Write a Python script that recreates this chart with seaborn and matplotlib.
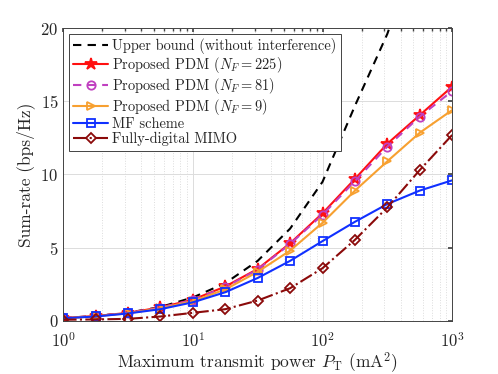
import numpy as np
import pandas as pd
import matplotlib
matplotlib.use("Agg")
import matplotlib.pyplot as plt
import seaborn as sns
from matplotlib.ticker import LogLocator, NullFormatter


# transmit power points (mA^2), 4 per decade
power = [1, 1.78, 3.16, 5.62, 10, 17.8, 31.6, 56.2, 100, 178, 316, 562, 1000]

upper_bound = [0.2, 0.33, 0.56, 0.95, 1.6, 2.58, 4.1, 6.3, 9.5, 14.7, 19.6, 26.0, 34.0]
pdm_225 = [0.2, 0.33, 0.55, 0.92, 1.45, 2.35, 3.55, 5.3, 7.35, 9.7, 12.1, 14.05, 16.0]
pdm_81 = [0.2, 0.33, 0.55, 0.91, 1.43, 2.3, 3.5, 5.25, 7.25, 9.55, 11.9, 13.95, 15.7]
pdm_9 = [0.18, 0.31, 0.52, 0.86, 1.35, 2.15, 3.35, 4.8, 6.7, 8.9, 10.9, 12.85, 14.4]
mf_scheme = [0.18, 0.3, 0.51, 0.8, 1.27, 1.96, 2.93, 4.1, 5.45, 6.77, 7.98, 8.9, 9.6]
fully_digital = [0.08, 0.1, 0.14, 0.3, 0.55, 0.8, 1.39, 2.23, 3.6, 5.54, 7.75, 10.3, 12.7]

sns.set_theme(style="white")
plt.rcParams['font.family'] = ['cmr10', 'DejaVu Serif']
plt.rcParams['mathtext.fontset'] = 'cm'
plt.rcParams['axes.formatter.use_mathtext'] = True
plt.rcParams['axes.unicode_minus'] = False

fig = plt.figure(figsize=(4.98, 3.74), dpi=100)
ax = fig.add_axes([0.127, 0.142, 0.781, 0.783])

series = [
    (upper_bound, 'Upper bound (without interference)', 'black', (0, (4, 3)), None, 'black'),
    (pdm_225, r'Proposed PDM ($N_F = 225$)', '#ff1010', '-', '*', '#ff1010'),
    (pdm_81, r'Proposed PDM ($N_F = 81$)', '#c040c0', (0, (4, 3)), 'o', 'none'),
    (pdm_9, r'Proposed PDM ($N_F = 9$)', '#f7a030', '-', '>', 'none'),
    (mf_scheme, 'MF scheme', '#1030ff', '-', 's', 'none'),
    (fully_digital, 'Fully-digital MIMO', '#8b0a0a', '-.', 'D', 'none'),
]

for vals, name, col, ls, mk, mfc in series:
    size = 9 if mk == '*' else 6
    if mk == 'D':
        size = 5
    sns.lineplot(x=power, y=vals, ax=ax, color=col, linestyle=ls, marker=mk,
                 markersize=size, markerfacecolor=mfc, markeredgecolor=col,
                 markeredgewidth=1.3, linewidth=1.5, label=name)

ax.set_xscale('log')
ax.set_xlim(1, 1000)
ax.set_ylim(0, 20)
ax.set_yticks([0, 5, 10, 15, 20])
ax.xaxis.set_minor_locator(LogLocator(base=10, subs=np.arange(2, 10)))
ax.xaxis.set_minor_formatter(NullFormatter())

ax.grid(True, which='major', color='#dcdcdc', linewidth=0.7)
ax.grid(True, which='minor', axis='x', color='#dcdcdc', linestyle=':', linewidth=0.7)
ax.tick_params(direction='in', top=True, right=True, which='both', labelsize=12,
               length=3, color='#444444')
ax.tick_params(which='minor', length=2)
ax.tick_params(axis='x', which='major', pad=7)
for sp in ax.spines.values():
    sp.set_color('#444444')
    sp.set_linewidth(0.7)

ax.set_xlabel(r'Maximum transmit power $P_{\mathrm{T}}$ (mA$^2$)', fontsize=12.5, labelpad=0)
ax.set_ylabel('Sum-rate (bps/Hz)', fontsize=12.5, labelpad=4)

leg = ax.legend(loc='upper left', fontsize=10.4, frameon=True, fancybox=False,
                edgecolor='#444444', framealpha=1, handlelength=2.4,
                borderpad=0.3, labelspacing=0.06, handletextpad=0.3,
                borderaxespad=0.4)
leg.get_frame().set_linewidth(0.7)

fig.savefig('out.png', dpi=100)
